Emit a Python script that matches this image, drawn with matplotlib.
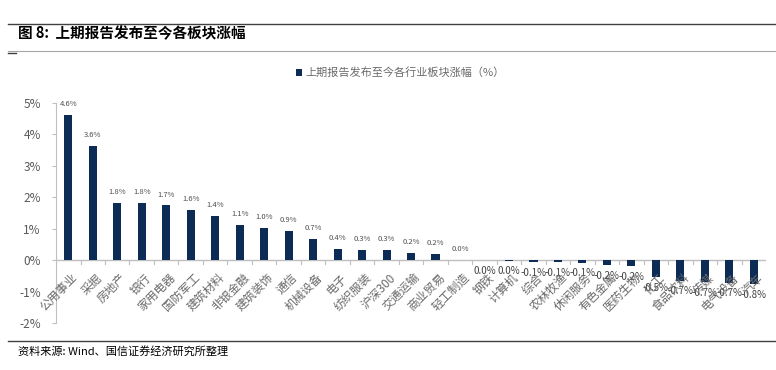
import matplotlib.pyplot as plt
from matplotlib.lines import Line2D
import numpy as np

plt.rcParams['font.family'] = ['Noto Sans CJK SC', 'DejaVu Sans']

# industries, sorted by return since last report (%)
sectors = ['公用事业', '采掘', '房地产', '银行', '家用电器', '国防军工', '建筑材料',
           '非银金融', '建筑装饰', '通信', '机械设备', '电子', '纺织服装', '沪深300',
           '交通运输', '商业贸易', '轻工制造', '钢铁', '计算机', '综合', '农林牧渔',
           '休闲服务', '有色金属', '医药生物', '化工', '食品饮料', '传媒', '电气设备', '汽车']
returns = [4.62, 3.64, 1.83, 1.81, 1.74, 1.61, 1.40, 1.11, 1.02, 0.94, 0.68, 0.37,
           0.32, 0.31, 0.23, 0.19, 0.02, -0.01, -0.02, -0.07, -0.07, -0.08, -0.17,
           -0.20, -0.54, -0.66, -0.71, -0.72, -0.77]
yticks = [-2, -1, 0, 1, 2, 3, 4, 5]
legend_label = '上期报告发布至今各行业板块涨幅（%）'

navy = '#0c2b55'
grey = '#6a6a6a'

fig = plt.figure(figsize=(7.76, 3.7), dpi=100)
ax = fig.add_axes([0.0722, 0.127, 0.915, 0.5946])

x = np.arange(len(sectors))
ax.bar(x, returns, width=0.33, color=navy, label=legend_label, zorder=3)

for xi, v in zip(x, returns):
    txt = f'{v:.1f}%'.replace('-0.0%', '0.0%')
    if v >= 0:
        ax.annotate(txt, (xi, v), xytext=(0, 5), textcoords='offset points',
                    ha='center', va='bottom', fontsize=5.5, color='#505050')
    else:
        ax.annotate(txt, (xi, v), xytext=(0, -4), textcoords='offset points',
                    ha='center', va='top', fontsize=7, color='#404040')

ax.set_xlim(-0.5, len(sectors) - 0.5)
ax.set_ylim(-2, 5)
ax.set_yticks(yticks)
ax.set_yticklabels([f'{t}%' for t in yticks], fontsize=8.5, color='#595959')
ax.tick_params(axis='y', length=3, color='#bfbfbf', pad=8)

# category axis sits on the zero line
ax.set_xticks([])
for s in ['top', 'right', 'bottom']:
    ax.spines[s].set_visible(False)
ax.spines['left'].set_color('#bfbfbf')
ax.axhline(0, color='#bfbfbf', lw=1, zorder=2)
for b in np.arange(-0.5, len(sectors)):
    ax.plot([b, b], [0, -0.13], color='#bfbfbf', lw=0.8, zorder=2)
for xi, name in zip(x, sectors):
    ax.annotate(name, (xi, 0), xytext=(2, -8), textcoords='offset points',
                rotation=45, ha='right', va='top', rotation_mode='anchor',
                fontsize=8.5, color=grey, annotation_clip=False)

fig.legend(loc='center', bbox_to_anchor=(0.516, 0.803), frameon=False,
           fontsize=8, handlelength=0.6, handleheight=0.6, handletextpad=0.3,
           labelcolor=grey)

# page decorations
fig.add_artist(Line2D([0.01, 1.0], [0.935, 0.935], color='#404040', lw=1))
fig.text(0.023, 0.911, '图 8:  上期报告发布至今各板块涨幅', fontsize=10.5,
         fontweight='bold', va='center', ha='left', color='black')
fig.add_artist(Line2D([0.01, 1.0], [0.862, 0.862], color='#a6a6a6', lw=0.8))
fig.add_artist(Line2D([0.01, 0.02], [0.857, 0.857], color='#404040', lw=1))
fig.add_artist(Line2D([0.01, 1.0], [0.078, 0.078], color='#404040', lw=1))
fig.text(0.023, 0.05, '资料来源: Wind、国信证券经济研究所整理', fontsize=8,
         va='center', ha='left', color='black')

fig.savefig('out.png', dpi=100)
